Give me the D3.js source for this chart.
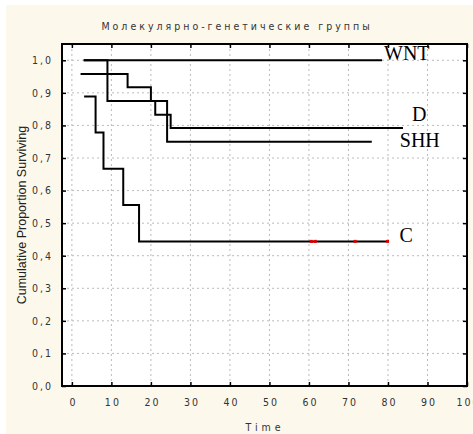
<!doctype html>
<html>
<head>
<meta charset="utf-8">
<title>Survival by group</title>
<script src="https://cdn.jsdelivr.net/npm/d3@7"></script>
<style>
  body { margin: 0; background: #fff; }
  svg { display: block; }
  .tick-lbl { font-family: "Liberation Sans Narrow", "DejaVu Sans Condensed", "DejaVu Sans", sans-serif; font-stretch: condensed; font-size: 10.5px; letter-spacing: 2px; fill: #333; }
  .grp { font-family: "Liberation Serif", "Times New Roman", serif; font-size: 20px; fill: #000; }
</style>
</head>
<body>
<svg width="473" height="434"></svg>
<script>
// series data: event times and survival after each step
const wntT = [3, 78.5];
const wntS = [1.0, 1.0];
const shhT = [3, 9, 24.1, 75.9];
const shhS = [1.0, 0.875, 0.75, 0.75];
const dT = [2.2, 14.1, 20, 21.1, 25, 83.8];
const dS = [0.958, 0.917, 0.875, 0.833, 0.792, 0.792];
const cT = [3.1, 6, 8, 13, 17, 79.9];
const cS = [0.889, 0.778, 0.667, 0.556, 0.444, 0.444];
const cCensored = [60.6, 61.6, 71.7, 79.9];

const xTicks = [0, 10, 20, 30, 40, 50, 60, 70, 80, 90, 100];
const yTicks = [0, 0.1, 0.2, 0.3, 0.4, 0.5, 0.6, 0.7, 0.8, 0.9, 1.0];

let svg = d3.select("svg");

// cream page background
svg.append("rect").attr("x", 6).attr("y", 5).attr("width", 467).attr("height", 429).attr("fill", "#fdf8ec");

let pL = 62, pR = 467, pT = 44, pB = 386;
let x = d3.scaleLinear().domain([-2.5, 100]).range([pL, pR]);
let y = d3.scaleLinear().domain([0, 1.05]).range([pB, pT]);

svg.append("rect").attr("x", pL).attr("y", pT).attr("width", pR - pL).attr("height", pB - pT).attr("fill", "#fff");

// dotted grid
let grid = svg.append("g");
grid.selectAll("line.gx").data(xTicks.filter(d => d > -2.5 && d < 100)).enter().append("line")
    .attr("x1", d => x(d)).attr("x2", d => x(d)).attr("y1", pT).attr("y2", pB)
    .attr("stroke", "#bbb").attr("stroke-dasharray", "2,3");
grid.selectAll("line.gy").data(yTicks.filter(d => d > 0)).enter().append("line")
    .attr("x1", pL).attr("x2", pR).attr("y1", d => y(d)).attr("y2", d => y(d))
    .attr("stroke", "#bbb").attr("stroke-dasharray", "2,3");

// axes with inward ticks
let fmt = d => d3.format(".1f")(d).replace(".", ",");
let xAxis = svg.append("g").attr("transform", "translate(0," + pB + ")")
    .call(d3.axisBottom(x).tickValues(xTicks).tickSize(-4).tickPadding(11).tickFormat(d3.format("d")));
let xTop = svg.append("g").attr("transform", "translate(0," + pT + ")")
    .call(d3.axisTop(x).tickValues(xTicks).tickSize(-4).tickFormat(""));
let yAxis = svg.append("g").attr("transform", "translate(" + pL + ",0)")
    .call(d3.axisLeft(y).tickValues(yTicks).tickSize(-4).tickPadding(9).tickFormat(fmt));
let yRight = svg.append("g").attr("transform", "translate(" + pR + ",0)")
    .call(d3.axisRight(y).tickValues(yTicks).tickSize(-4).tickFormat(""));
[xAxis, xTop, yAxis, yRight].forEach(a => {
    a.select(".domain").remove();
    a.selectAll(".tick line").attr("stroke", "#000").attr("stroke-width", 1.5);
    a.selectAll("text").attr("class", "tick-lbl");
});
xAxis.selectAll("text").attr("dy", "0.9em").attr("dx", "1px");

// frame
svg.append("rect").attr("x", pL).attr("y", pT).attr("width", pR - pL).attr("height", pB - pT)
    .attr("fill", "none").attr("stroke", "#000").attr("stroke-width", 2);

// survival step curves
let line = d3.line().x(d => x(d[0])).y(d => y(d[1])).curve(d3.curveStepAfter);
let series = [
    {name: "WNT", t: wntT, s: wntS, dx: 2, dy: 0},
    {name: "SHH", t: shhT, s: shhS, dx: 28, dy: 5},
    {name: "D", t: dT, s: dS, dx: 9, dy: -7},
    {name: "C", t: cT, s: cS, dx: 12, dy: 1}
];
series.forEach(sr => {
    let pts = sr.t.map((t, i) => [t, sr.s[i]]);
    svg.append("path").attr("d", line(pts)).attr("fill", "none").attr("stroke", "#000").attr("stroke-width", 2);
    let last = pts[pts.length - 1];
    svg.append("text").attr("class", "grp")
        .attr("x", x(last[0]) + sr.dx).attr("y", y(last[1]) + sr.dy)
        .text(sr.name);
});

// censored marks on C
svg.selectAll("rect.cens").data(cCensored).enter().append("rect")
    .attr("x", d => x(d) - 1.5).attr("y", y(cS[cS.length - 1]) - 1.5)
    .attr("width", 3).attr("height", 3).attr("fill", "#e00000");

// titles
svg.append("text").attr("x", 237).attr("y", 30).attr("text-anchor", "middle")
    .attr("class", "tick-lbl").style("letter-spacing", "3px")
    .text("Молекулярно-генетические группы");
svg.append("text").attr("x", 265).attr("y", 431).attr("text-anchor", "middle")
    .attr("class", "tick-lbl").style("letter-spacing", "4px")
    .text("Time");
svg.append("text").attr("transform", "translate(26,215) rotate(-90)").attr("text-anchor", "middle")
    .style("font-family", "Liberation Sans, Arial, sans-serif").style("font-size", "12.5px").attr("fill", "#222")
    .text("Cumulative Proportion Surviving");
</script>
</body>
</html>
